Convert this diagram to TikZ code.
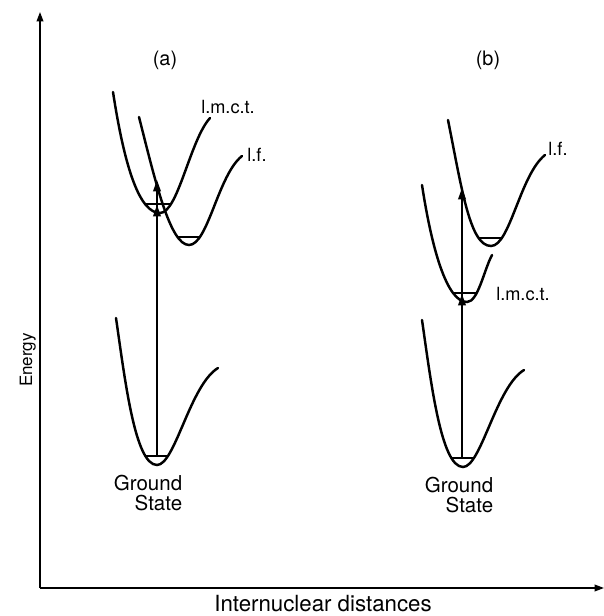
\documentclass[tikz,border=0pt]{standalone}
\usepackage{fontspec}
\setmainfont{TeX Gyre Heros}
\usetikzlibrary{arrows.meta,intersections}

\begin{document}
\begin{tikzpicture}[x=0.3mm, y=-0.3mm,
  well/.style={line width=2.1pt, line cap=round},
  level/.style={line width=1.4pt},
  arr/.style={-{Triangle[length=3.4mm, width=2.3mm]}, line width=1.2pt},
  axis/.style={-{Triangle[length=2.8mm, width=2mm]}, line width=1.2pt},
  lbl/.style={font=\fontsize{15.5}{17}\selectfont, inner sep=0pt},
  big/.style={font=\fontsize{17.5}{17}\selectfont, inner sep=0pt, align=right}]
\useasboundingbox (0,0) rectangle (604,616);
% axes
\coordinate (origin) at (40,588);
\coordinate (ytop) at (40,12);
\coordinate (xend) at (604,588);
\draw[axis] (origin) -- (ytop);
\draw[axis] (origin) -- (xend);
\node[rotate=90, inner sep=0pt, anchor=base, font=\fontsize{14.5}{15}\selectfont] (energy) at (32,360) {Energy};
\node[inner sep=0pt, anchor=base, font=\fontsize{19}{20}\selectfont] (dist) at (323,611) {Internuclear distances};
\node[lbl, font=\fontsize{17}{17}\selectfont] (titleA) at (165,60) {(a)};
\node[lbl, font=\fontsize{17}{17}\selectfont] (titleB) at (488,60) {(b)};
% potential wells, (a)
\draw[well, name path=gsA] (116,318) .. controls (125,380) and (135,465) .. (157,465) .. controls (175,465) and (190,385) .. (218,368);
\draw[well, name path=lmctA] (113,92) .. controls (125,170) and (140,213) .. (160,213) .. controls (178,213) and (190,140) .. (210,118);
\draw[well, name path=lfA] (139,117) .. controls (155,180) and (170,245) .. (189,245) .. controls (208,245) and (218,175) .. (242,156);
% potential wells, (b)
\draw[well, name path=gsB] (422,320) .. controls (431,382) and (441,467) .. (463,467) .. controls (481,467) and (496,387) .. (524,370);
\draw[well, name path=lmctB] (422,185) .. controls (432,250) and (447,302) .. (467,302) .. controls (478,302) and (484,270) .. (492,255);
\draw[well, name path=lfB] (448,120) .. controls (462,190) and (470,246) .. (491,246) .. controls (510,246) and (520,175) .. (545,155);
% lowest vibrational levels
\path[name path=lvgsA] (0,456) -- (300,456);
\path[name path=lvlmctA] (0,204) -- (300,204);
\path[name path=lvlfA] (0,237) -- (300,237);
\path[name path=lvgsB] (300,458) -- (604,458);
\path[name path=lvlmctB] (300,293) -- (604,293);
\path[name path=lvlfB] (300,238) -- (604,238);
\draw[level, name intersections={of=gsA and lvgsA}] (intersection-1) -- (intersection-2);
\draw[level, name intersections={of=lmctA and lvlmctA}] (intersection-1) -- (intersection-2);
\draw[level, name intersections={of=lfA and lvlfA}] (intersection-1) -- (intersection-2);
\draw[level, name intersections={of=gsB and lvgsB}] (intersection-1) -- (intersection-2);
\draw[level, name intersections={of=lmctB and lvlmctB}] (intersection-1) -- (intersection-2);
\draw[level, name intersections={of=lfB and lvlfB}] (intersection-1) -- (intersection-2);
% excitations
\coordinate (gsA0) at (157,456);
\coordinate (lmctA0) at (157,205);
\coordinate (lfA0) at (157,180);
\draw[arr] (gsA0) -- (lfA0);
\draw[arr] (gsA0) -- (lmctA0);
\coordinate (gsB0) at (462,458);
\coordinate (lmctB0) at (462,294);
\coordinate (lfB0) at (462,188);
\draw[arr] (gsB0) -- (lfB0);
\draw[arr] (gsB0) -- (lmctB0);
% labels
\node[lbl] (lmctAlbl) at (228,107) {l.m.c.t.};
\node[lbl] (lfAlbl) at (257,155) {l.f.};
\node[lbl] (lfBlbl) at (558,149) {l.f.};
\node[lbl] (lmctBlbl) at (523,294) {l.m.c.t.};
\node[big] (gsAlbl) at (148,493) {Ground\\State};
\node[big] (gsBlbl) at (459,495) {Ground\\State};
\end{tikzpicture}
\end{document}
